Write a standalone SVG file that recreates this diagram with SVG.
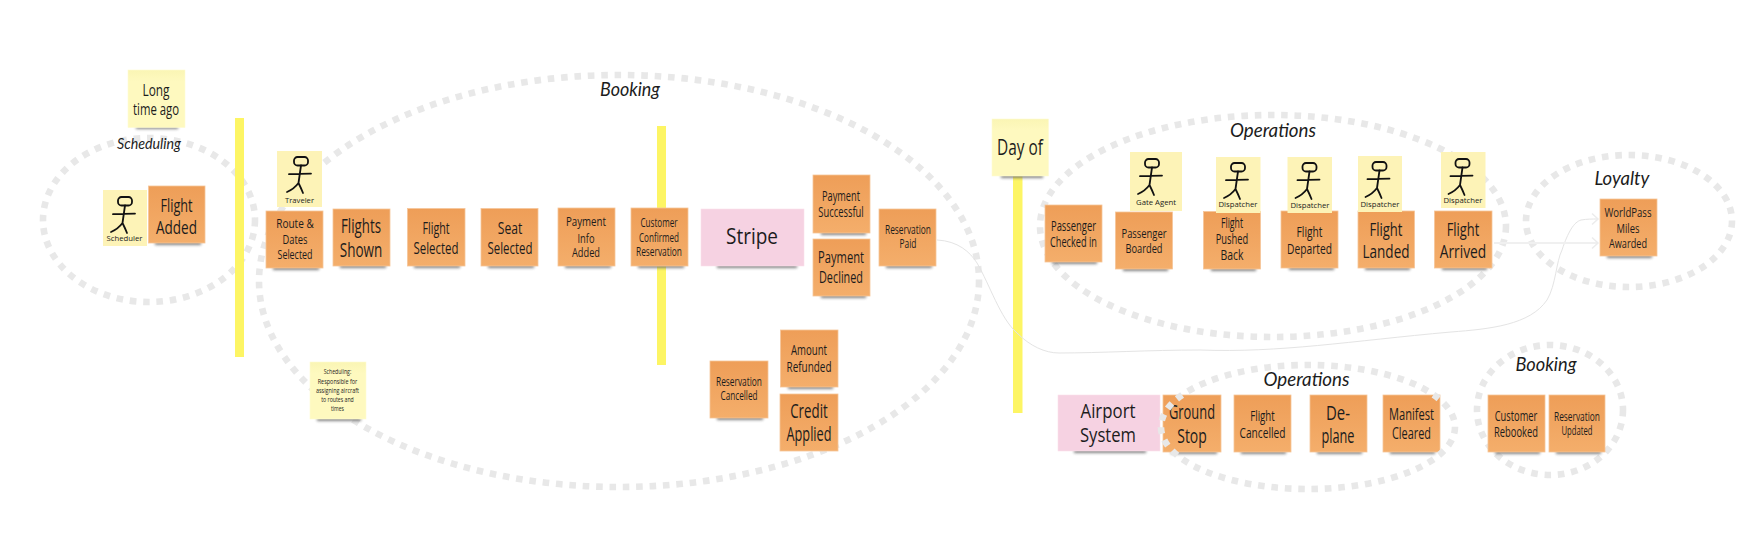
<svg xmlns="http://www.w3.org/2000/svg" width="1764" height="550" viewBox="0 0 1764 550">
<style>
text{fill:#1c1c1c;text-anchor:middle;font-family:"Liberation Sans Narrow","Open Sans","Liberation Sans",sans-serif}
.o{fill:url(#og);stroke:#f6c59a;stroke-width:.8}
.y{fill:url(#yg);stroke:#fefbd2;stroke-width:.6}
.a{fill:#fdf3b7}
.p{fill:#f6d2e2;stroke:#fae0ec;stroke-width:.6}
.b{fill:#fdf564}
.s{fill:#666;opacity:.8;filter:url(#bl)}
.ring{fill:none;stroke:#e8e8e8;stroke-width:6.6;stroke-dasharray:6.6 6.8}
.c{fill:none;stroke:#e4e4e4;stroke-width:1}
.c2{fill:none;stroke:#f0f0f0;stroke-width:2}
.sans{font-family:"Open Sans","Noto Sans",sans-serif}
.lab{font-family:Lato,"Open Sans",sans-serif;font-style:italic}
</style>
<defs>
<linearGradient id="og" x1="0" y1="0" x2="0" y2="1"><stop offset="0" stop-color="#ee9e58"/><stop offset="1" stop-color="#f4ae6b"/></linearGradient>
<linearGradient id="yg" x1="0" y1="0" x2="0" y2="1"><stop offset="0" stop-color="#faf5b4"/><stop offset=".2" stop-color="#fef9bf"/><stop offset="1" stop-color="#fef9bf"/></linearGradient>
<filter id="bl" x="-20%" y="-150%" width="140%" height="400%"><feGaussianBlur stdDeviation="1.8"/></filter>
<marker id="chev" markerUnits="userSpaceOnUse" markerWidth="12" markerHeight="14" refX="9" refY="7" orient="auto"><path d="M3 1.5L9 7L3 12.5" fill="none" stroke="#ececec" stroke-width="1.5"/></marker>
<g id="actor" fill="none" stroke="#111" stroke-width="1.8" stroke-linecap="round"><rect x="17" y="6" width="14" height="8.5" rx="3.5"/><path d="M24 14.500L21.500 32M12 23.200L34 22.600M21.500 32Q17 38 10 41M21.500 32Q24 37 26 42"/></g>
</defs>

<g id="rings">
<ellipse class="ring" cx="149" cy="220" rx="106" ry="82"/>
<ellipse class="ring" cx="619" cy="281" rx="360" ry="206"/>
<ellipse class="ring" cx="1273" cy="226" rx="233" ry="111"/>
<ellipse class="ring" cx="1629" cy="221" rx="103" ry="66"/>
<ellipse class="ring" cx="1550" cy="410" rx="73" ry="65"/>
</g>
<g id="timeline-bars">
<rect class="b" x="235" y="118" width="9" height="239"/>
<rect class="b" x="657" y="126" width="9" height="239"/>
<rect class="b" x="1013" y="170" width="9.500" height="243"/>
</g>
<g id="connectors">
<path class="c" marker-end="url(#chev)" d="M937 240C958 241 970 252 977 263C990 285 1000 318 1017 333C1030 346 1045 353 1059 353C1100 353 1150 350 1200 350C1280 353 1350 341 1451 332C1490 329 1530 325 1547 300C1556 285 1556 262 1562 250C1568 232 1574 222 1581 220C1587 219 1592 219 1598 219"/>
<path class="c2" marker-end="url(#chev)" d="M1494 243H1598"/>
</g>

<g id="long-time-ago"><rect class="s" x="136" y="126" width="42" height="3"/><rect class="y" x="128" y="70" width="57" height="57.500"/><text font-size="16"><tspan x="156" y="95.500" textLength="27" lengthAdjust="spacingAndGlyphs">Long</tspan><tspan x="156" y="115" textLength="46" lengthAdjust="spacingAndGlyphs">time ago</tspan></text></g>
<g id="label-scheduling"><text class="lab" x="149" y="149" font-size="15" textLength="64" lengthAdjust="spacingAndGlyphs">Scheduling</text></g>
<g id="actor-scheduler"><rect class="a" x="103" y="190" width="44" height="56"/><use href="#actor" x="101" y="191"/><text class="sans" x="124.500" y="241" font-size="8" textLength="36" lengthAdjust="spacingAndGlyphs">Scheduler</text></g>
<g id="flight-added"><rect class="s" x="155" y="241" width="46" height="4"/><rect class="o" x="148.500" y="186" width="56.500" height="57"/><text font-size="19"><tspan x="176.500" y="211.500" textLength="32" lengthAdjust="spacingAndGlyphs">Flight</tspan><tspan x="176.500" y="234" textLength="41" lengthAdjust="spacingAndGlyphs">Added</tspan></text></g>
<g id="actor-traveler"><rect class="a" x="277" y="151" width="45" height="56"/><use href="#actor" x="277" y="151"/><text class="sans" x="299.500" y="203" font-size="8" textLength="29" lengthAdjust="spacingAndGlyphs">Traveler</text></g>
<g id="route-dates"><rect class="s" x="273" y="266" width="46" height="4"/><rect class="o" x="266" y="211" width="57" height="57"/><text font-size="13"><tspan x="295" y="228" textLength="37.500" lengthAdjust="spacingAndGlyphs">Route &amp;</tspan><tspan x="295" y="244" textLength="25" lengthAdjust="spacingAndGlyphs">Dates</tspan><tspan x="295" y="259" textLength="35" lengthAdjust="spacingAndGlyphs">Selected</tspan></text></g>
<g id="flights-shown"><rect class="s" x="340" y="264" width="46" height="4"/><rect class="o" x="333" y="209" width="57" height="57"/><text font-size="20"><tspan x="361" y="233" textLength="40" lengthAdjust="spacingAndGlyphs">Flights</tspan><tspan x="361" y="257" textLength="42.500" lengthAdjust="spacingAndGlyphs">Shown</tspan></text></g>
<g id="flight-selected"><rect class="s" x="414" y="264" width="46" height="4"/><rect class="o" x="407.500" y="208.500" width="57.500" height="57.500"/><text font-size="17"><tspan x="436" y="234" textLength="27" lengthAdjust="spacingAndGlyphs">Flight</tspan><tspan x="436" y="254" textLength="45" lengthAdjust="spacingAndGlyphs">Selected</tspan></text></g>
<g id="seat-selected"><rect class="s" x="488" y="264" width="46" height="4"/><rect class="o" x="481" y="208.500" width="57" height="57.500"/><text font-size="17"><tspan x="510" y="234" textLength="24.500" lengthAdjust="spacingAndGlyphs">Seat</tspan><tspan x="510" y="254" textLength="45" lengthAdjust="spacingAndGlyphs">Selected</tspan></text></g>
<g id="payment-info"><rect class="s" x="565" y="264" width="46" height="4"/><rect class="o" x="558" y="208" width="57" height="58"/><text font-size="12"><tspan x="586" y="226" textLength="40" lengthAdjust="spacingAndGlyphs">Payment</tspan><tspan x="586" y="243" textLength="17" lengthAdjust="spacingAndGlyphs">Info</tspan><tspan x="586" y="257" textLength="28" lengthAdjust="spacingAndGlyphs">Added</tspan></text></g>
<g id="customer-confirmed"><rect class="s" x="638" y="264" width="46" height="4"/><rect class="o" x="631" y="208" width="57" height="58"/><text font-size="12"><tspan x="659" y="227" textLength="37" lengthAdjust="spacingAndGlyphs">Customer</tspan><tspan x="659" y="242" textLength="40" lengthAdjust="spacingAndGlyphs">Confirmed</tspan><tspan x="659" y="256" textLength="46" lengthAdjust="spacingAndGlyphs">Reservation</tspan></text></g>
<g id="stripe"><rect class="s" x="717" y="264" width="80" height="4"/><rect class="p" x="701" y="209" width="103" height="57"/><text class="sans" x="752" y="244" font-size="22" textLength="52" lengthAdjust="spacingAndGlyphs">Stripe</text></g>
<g id="payment-successful"><rect class="s" x="821" y="231" width="45" height="4"/><rect class="o" x="813" y="175" width="57" height="58"/><text font-size="14"><tspan x="841" y="201" textLength="38" lengthAdjust="spacingAndGlyphs">Payment</tspan><tspan x="841" y="217" textLength="45.500" lengthAdjust="spacingAndGlyphs">Successful</tspan></text></g>
<g id="payment-declined"><rect class="s" x="821" y="294" width="45" height="4"/><rect class="o" x="813" y="239" width="57" height="57"/><text font-size="17"><tspan x="841" y="263" textLength="46" lengthAdjust="spacingAndGlyphs">Payment</tspan><tspan x="841" y="283" textLength="44" lengthAdjust="spacingAndGlyphs">Declined</tspan></text></g>
<g id="reservation-paid"><rect class="s" x="886" y="264" width="46" height="4"/><rect class="o" x="879" y="209" width="57" height="57"/><text font-size="12"><tspan x="908" y="234" textLength="46" lengthAdjust="spacingAndGlyphs">Reservation</tspan><tspan x="908" y="248" textLength="17" lengthAdjust="spacingAndGlyphs">Paid</tspan></text></g>
<g id="label-booking-1"><text class="lab" x="630" y="96" font-size="20" textLength="60" lengthAdjust="spacingAndGlyphs">Booking</text></g>
<g id="scheduling-note"><rect class="s" x="317" y="417" width="44" height="4"/><rect class="y" x="310" y="362" width="56" height="57"/><text font-size="8"><tspan x="337.500" y="374" textLength="27.500" lengthAdjust="spacingAndGlyphs">Scheduling:</tspan><tspan x="337.500" y="384" textLength="39.500" lengthAdjust="spacingAndGlyphs">Responsible for</tspan><tspan x="337.500" y="393" textLength="43" lengthAdjust="spacingAndGlyphs">assigning aircraft</tspan><tspan x="337.500" y="402" textLength="32.500" lengthAdjust="spacingAndGlyphs">to routes and</tspan><tspan x="337.500" y="411" textLength="13" lengthAdjust="spacingAndGlyphs">times</tspan></text></g>
<g id="reservation-cancelled"><rect class="s" x="717" y="416" width="46" height="4"/><rect class="o" x="710" y="361" width="58" height="57"/><text font-size="12"><tspan x="739" y="386" textLength="46" lengthAdjust="spacingAndGlyphs">Reservation</tspan><tspan x="739" y="400" textLength="37" lengthAdjust="spacingAndGlyphs">Cancelled</tspan></text></g>
<g id="amount-refunded"><rect class="s" x="788" y="385" width="45" height="4"/><rect class="o" x="780.500" y="330" width="57.500" height="57"/><text font-size="15"><tspan x="809" y="355" textLength="36" lengthAdjust="spacingAndGlyphs">Amount</tspan><tspan x="809" y="372" textLength="45" lengthAdjust="spacingAndGlyphs">Refunded</tspan></text></g>
<g id="credit-applied"><rect class="o" x="780" y="394" width="58" height="57"/><text font-size="20"><tspan x="809" y="418" textLength="37.500" lengthAdjust="spacingAndGlyphs">Credit</tspan><tspan x="809" y="441" textLength="45" lengthAdjust="spacingAndGlyphs">Applied</tspan></text></g>
<g id="day-of"><rect class="s" x="1001" y="174" width="42" height="4"/><rect class="y" x="992" y="119" width="56.500" height="57"/><text x="1020" y="155" font-size="22" textLength="46" lengthAdjust="spacingAndGlyphs">Day of</text></g>
<g id="passenger-checked-in"><rect class="s" x="1052" y="260" width="45" height="4"/><rect class="o" x="1045" y="205" width="57" height="57"/><text font-size="14"><tspan x="1073.500" y="231" textLength="45" lengthAdjust="spacingAndGlyphs">Passenger</tspan><tspan x="1073.500" y="247" textLength="47" lengthAdjust="spacingAndGlyphs">Checked in</tspan></text></g>
<g id="actor-gate-agent"><rect class="a" x="1130" y="152" width="52" height="59"/><use href="#actor" x="1128" y="153"/><text class="sans" x="1156" y="205" font-size="8" textLength="40" lengthAdjust="spacingAndGlyphs">Gate Agent</text></g>
<g id="passenger-boarded"><rect class="s" x="1123" y="267" width="45" height="4"/><rect class="o" x="1115.500" y="212" width="57" height="57"/><text font-size="13"><tspan x="1144" y="238" textLength="45" lengthAdjust="spacingAndGlyphs">Passenger</tspan><tspan x="1144" y="253" textLength="37" lengthAdjust="spacingAndGlyphs">Boarded</tspan></text></g>
<g id="flight-pushed-back"><rect class="s" x="1211" y="267" width="45" height="4"/><rect class="o" x="1203.500" y="211.500" width="57" height="57.500"/><text font-size="14"><tspan x="1232" y="228" textLength="22" lengthAdjust="spacingAndGlyphs">Flight</tspan><tspan x="1232" y="244" textLength="32.500" lengthAdjust="spacingAndGlyphs">Pushed</tspan><tspan x="1232" y="260" textLength="23" lengthAdjust="spacingAndGlyphs">Back</tspan></text></g>
<g id="actor-dispatcher-1"><rect class="a" x="1216" y="157" width="44.500" height="56"/><use href="#actor" x="1214" y="157"/><text class="sans" x="1238" y="207" font-size="8" textLength="39" lengthAdjust="spacingAndGlyphs">Dispatcher</text></g>
<g id="flight-departed"><rect class="s" x="1289" y="266" width="45" height="4"/><rect class="o" x="1281" y="211" width="57" height="57"/><text font-size="15"><tspan x="1309.500" y="237" textLength="26" lengthAdjust="spacingAndGlyphs">Flight</tspan><tspan x="1309.500" y="254" textLength="45" lengthAdjust="spacingAndGlyphs">Departed</tspan></text></g>
<g id="actor-dispatcher-2"><rect class="a" x="1287.500" y="157" width="44.500" height="56"/><use href="#actor" x="1285.500" y="157"/><text class="sans" x="1310" y="208" font-size="8" textLength="39" lengthAdjust="spacingAndGlyphs">Dispatcher</text></g>
<g id="flight-landed"><rect class="s" x="1365" y="266" width="45" height="4"/><rect class="o" x="1358" y="211" width="56.500" height="57"/><text font-size="19"><tspan x="1386" y="236" textLength="33" lengthAdjust="spacingAndGlyphs">Flight</tspan><tspan x="1386" y="258" textLength="47" lengthAdjust="spacingAndGlyphs">Landed</tspan></text></g>
<g id="actor-dispatcher-3"><rect class="a" x="1358" y="156" width="44" height="56"/><use href="#actor" x="1355.500" y="156"/><text class="sans" x="1380" y="207" font-size="8" textLength="39" lengthAdjust="spacingAndGlyphs">Dispatcher</text></g>
<g id="flight-arrived"><rect class="s" x="1442" y="266" width="45" height="4"/><rect class="o" x="1434.500" y="211" width="57.500" height="57"/><text font-size="19"><tspan x="1463" y="236" textLength="32.500" lengthAdjust="spacingAndGlyphs">Flight</tspan><tspan x="1463" y="258" textLength="46.500" lengthAdjust="spacingAndGlyphs">Arrived</tspan></text></g>
<g id="actor-dispatcher-4"><rect class="a" x="1441" y="152" width="44.500" height="56"/><use href="#actor" x="1438.500" y="153"/><text class="sans" x="1463" y="203" font-size="8" textLength="39" lengthAdjust="spacingAndGlyphs">Dispatcher</text></g>
<g id="label-operations-1"><text class="lab" x="1273" y="137" font-size="20" textLength="86" lengthAdjust="spacingAndGlyphs">Operations</text></g>
<g id="label-loyalty"><text class="lab" x="1622" y="185" font-size="20" textLength="55" lengthAdjust="spacingAndGlyphs">Loyalty</text></g>
<g id="worldpass"><rect class="s" x="1607" y="254" width="45" height="4"/><rect class="o" x="1600" y="199" width="57" height="57"/><text font-size="13"><tspan x="1628" y="217" textLength="47" lengthAdjust="spacingAndGlyphs">WorldPass</tspan><tspan x="1628" y="233" textLength="23" lengthAdjust="spacingAndGlyphs">Miles</tspan><tspan x="1628" y="248" textLength="38" lengthAdjust="spacingAndGlyphs">Awarded</tspan></text></g>

<g id="airport-system"><rect class="s" x="1074" y="449" width="72" height="4"/><rect class="p" x="1058" y="395" width="102" height="56"/><text class="sans" font-size="20"><tspan x="1108" y="418" textLength="55" lengthAdjust="spacingAndGlyphs">Airport</tspan><tspan x="1108" y="442" textLength="56" lengthAdjust="spacingAndGlyphs">System</tspan></text></g>
<g id="ground-stop"><rect class="s" x="1171" y="450" width="46" height="4"/><rect class="o" x="1163" y="395" width="58" height="57"/><text font-size="20"><tspan x="1192" y="419" textLength="46" lengthAdjust="spacingAndGlyphs">Ground</tspan><tspan x="1192" y="443" textLength="29.500" lengthAdjust="spacingAndGlyphs">Stop</tspan></text></g>
<g id="flight-cancelled"><rect class="s" x="1241" y="450" width="45" height="4"/><rect class="o" x="1234" y="395" width="57" height="57"/><text font-size="15"><tspan x="1262.500" y="421" textLength="24.500" lengthAdjust="spacingAndGlyphs">Flight</tspan><tspan x="1262.500" y="438" textLength="46" lengthAdjust="spacingAndGlyphs">Cancelled</tspan></text></g>
<g id="de-plane"><rect class="s" x="1317" y="450" width="45" height="4"/><rect class="o" x="1310" y="395" width="57" height="57"/><text font-size="20"><tspan x="1338" y="420" textLength="24" lengthAdjust="spacingAndGlyphs">De-</tspan><tspan x="1338" y="443" textLength="33" lengthAdjust="spacingAndGlyphs">plane</tspan></text></g>
<g id="manifest-cleared"><rect class="s" x="1390" y="450" width="45" height="4"/><rect class="o" x="1383" y="395" width="57" height="57"/><text font-size="16"><tspan x="1411.500" y="420" textLength="45" lengthAdjust="spacingAndGlyphs">Manifest</tspan><tspan x="1411.500" y="439" textLength="39" lengthAdjust="spacingAndGlyphs">Cleared</tspan></text></g>
<g id="ring-operations-2"><ellipse class="ring" cx="1308" cy="427" rx="147" ry="62"/></g>
<g id="label-operations-2"><text class="lab" x="1306.500" y="386" font-size="20" textLength="86" lengthAdjust="spacingAndGlyphs">Operations</text></g>
<g id="label-booking-2"><text class="lab" x="1546" y="371" font-size="20" textLength="61" lengthAdjust="spacingAndGlyphs">Booking</text></g>
<g id="customer-rebooked"><rect class="s" x="1495" y="450" width="45" height="4"/><rect class="o" x="1488" y="395" width="57" height="57"/><text font-size="14"><tspan x="1516" y="421" textLength="42.500" lengthAdjust="spacingAndGlyphs">Customer</tspan><tspan x="1516" y="437" textLength="44" lengthAdjust="spacingAndGlyphs">Rebooked</tspan></text></g>
<g id="reservation-updated"><rect class="s" x="1556" y="450" width="45" height="4"/><rect class="o" x="1549" y="395" width="56" height="57"/><text font-size="12"><tspan x="1577" y="421" textLength="46" lengthAdjust="spacingAndGlyphs">Reservation</tspan><tspan x="1577" y="435" textLength="31" lengthAdjust="spacingAndGlyphs">Updated</tspan></text></g>
</svg>
